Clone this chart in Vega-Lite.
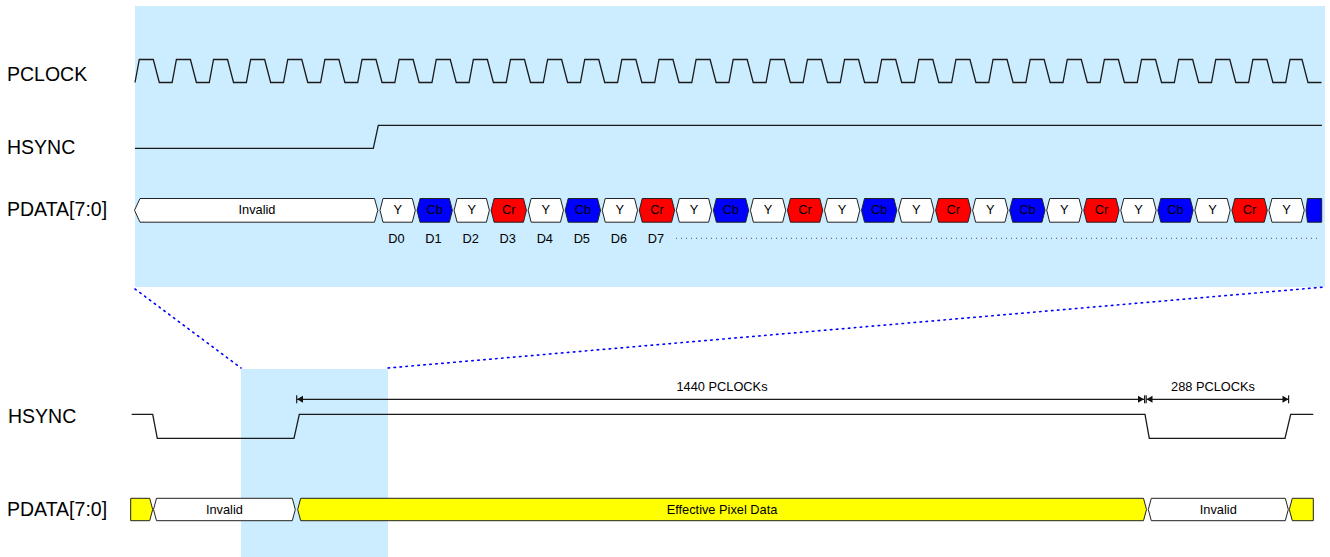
{
  "$schema": "https://vega.github.io/schema/vega-lite/v6.json",
  "width": 1330,
  "height": 557,
  "autosize": {"type": "fit", "contains": "padding"},
  "padding": 0,
  "background": "white",
  "config": {"view": {"stroke": null}, "font": "Liberation Sans"},
  "datasets": {
    "bg": [
      {"x": 135, "x2": 1325, "y": 6, "y2": 287},
      {"x": 241, "x2": 388, "y": 369, "y2": 557}
    ],
    "diag": [
      {"x": 135, "x2": 241, "y": 289, "y2": 368},
      {"x": 388, "x2": 1325, "y": 368, "y2": 287}
    ],
    "dots": [
      {"x": 676, "x2": 1319, "y": 238.3}
    ],
    "waves": [
      {"s": "clk", "x": 135, "y": 82.5}, {"s": "clk", "x": 139.3, "y": 59.5}, {"s": "clk", "x": 153.3, "y": 59.5}, {"s": "clk", "x": 159.3, "y": 82.5},
      {"s": "clk", "x": 172.12, "y": 82.5}, {"s": "clk", "x": 176.42, "y": 59.5}, {"s": "clk", "x": 190.42, "y": 59.5}, {"s": "clk", "x": 196.42, "y": 82.5},
      {"s": "clk", "x": 209.24, "y": 82.5}, {"s": "clk", "x": 213.54, "y": 59.5}, {"s": "clk", "x": 227.54, "y": 59.5}, {"s": "clk", "x": 233.54, "y": 82.5},
      {"s": "clk", "x": 246.36, "y": 82.5}, {"s": "clk", "x": 250.66, "y": 59.5}, {"s": "clk", "x": 264.66, "y": 59.5}, {"s": "clk", "x": 270.66, "y": 82.5},
      {"s": "clk", "x": 283.48, "y": 82.5}, {"s": "clk", "x": 287.78, "y": 59.5}, {"s": "clk", "x": 301.78, "y": 59.5}, {"s": "clk", "x": 307.78, "y": 82.5},
      {"s": "clk", "x": 320.6, "y": 82.5}, {"s": "clk", "x": 324.9, "y": 59.5}, {"s": "clk", "x": 338.9, "y": 59.5}, {"s": "clk", "x": 344.9, "y": 82.5},
      {"s": "clk", "x": 357.72, "y": 82.5}, {"s": "clk", "x": 362.02, "y": 59.5}, {"s": "clk", "x": 376.02, "y": 59.5}, {"s": "clk", "x": 382.02, "y": 82.5},
      {"s": "clk", "x": 394.84, "y": 82.5}, {"s": "clk", "x": 399.14, "y": 59.5}, {"s": "clk", "x": 413.14, "y": 59.5}, {"s": "clk", "x": 419.14, "y": 82.5},
      {"s": "clk", "x": 431.96, "y": 82.5}, {"s": "clk", "x": 436.26, "y": 59.5}, {"s": "clk", "x": 450.26, "y": 59.5}, {"s": "clk", "x": 456.26, "y": 82.5},
      {"s": "clk", "x": 469.08, "y": 82.5}, {"s": "clk", "x": 473.38, "y": 59.5}, {"s": "clk", "x": 487.38, "y": 59.5}, {"s": "clk", "x": 493.38, "y": 82.5},
      {"s": "clk", "x": 506.2, "y": 82.5}, {"s": "clk", "x": 510.5, "y": 59.5}, {"s": "clk", "x": 524.5, "y": 59.5}, {"s": "clk", "x": 530.5, "y": 82.5},
      {"s": "clk", "x": 543.32, "y": 82.5}, {"s": "clk", "x": 547.62, "y": 59.5}, {"s": "clk", "x": 561.62, "y": 59.5}, {"s": "clk", "x": 567.62, "y": 82.5},
      {"s": "clk", "x": 580.44, "y": 82.5}, {"s": "clk", "x": 584.74, "y": 59.5}, {"s": "clk", "x": 598.74, "y": 59.5}, {"s": "clk", "x": 604.74, "y": 82.5},
      {"s": "clk", "x": 617.56, "y": 82.5}, {"s": "clk", "x": 621.86, "y": 59.5}, {"s": "clk", "x": 635.86, "y": 59.5}, {"s": "clk", "x": 641.86, "y": 82.5},
      {"s": "clk", "x": 654.68, "y": 82.5}, {"s": "clk", "x": 658.98, "y": 59.5}, {"s": "clk", "x": 672.98, "y": 59.5}, {"s": "clk", "x": 678.98, "y": 82.5},
      {"s": "clk", "x": 691.8, "y": 82.5}, {"s": "clk", "x": 696.1, "y": 59.5}, {"s": "clk", "x": 710.1, "y": 59.5}, {"s": "clk", "x": 716.1, "y": 82.5},
      {"s": "clk", "x": 728.92, "y": 82.5}, {"s": "clk", "x": 733.22, "y": 59.5}, {"s": "clk", "x": 747.22, "y": 59.5}, {"s": "clk", "x": 753.22, "y": 82.5},
      {"s": "clk", "x": 766.04, "y": 82.5}, {"s": "clk", "x": 770.34, "y": 59.5}, {"s": "clk", "x": 784.34, "y": 59.5}, {"s": "clk", "x": 790.34, "y": 82.5},
      {"s": "clk", "x": 803.16, "y": 82.5}, {"s": "clk", "x": 807.46, "y": 59.5}, {"s": "clk", "x": 821.46, "y": 59.5}, {"s": "clk", "x": 827.46, "y": 82.5},
      {"s": "clk", "x": 840.28, "y": 82.5}, {"s": "clk", "x": 844.58, "y": 59.5}, {"s": "clk", "x": 858.58, "y": 59.5}, {"s": "clk", "x": 864.58, "y": 82.5},
      {"s": "clk", "x": 877.4, "y": 82.5}, {"s": "clk", "x": 881.7, "y": 59.5}, {"s": "clk", "x": 895.7, "y": 59.5}, {"s": "clk", "x": 901.7, "y": 82.5},
      {"s": "clk", "x": 914.52, "y": 82.5}, {"s": "clk", "x": 918.82, "y": 59.5}, {"s": "clk", "x": 932.82, "y": 59.5}, {"s": "clk", "x": 938.82, "y": 82.5},
      {"s": "clk", "x": 951.64, "y": 82.5}, {"s": "clk", "x": 955.94, "y": 59.5}, {"s": "clk", "x": 969.94, "y": 59.5}, {"s": "clk", "x": 975.94, "y": 82.5},
      {"s": "clk", "x": 988.76, "y": 82.5}, {"s": "clk", "x": 993.06, "y": 59.5}, {"s": "clk", "x": 1007.06, "y": 59.5}, {"s": "clk", "x": 1013.06, "y": 82.5},
      {"s": "clk", "x": 1025.88, "y": 82.5}, {"s": "clk", "x": 1030.18, "y": 59.5}, {"s": "clk", "x": 1044.18, "y": 59.5}, {"s": "clk", "x": 1050.18, "y": 82.5},
      {"s": "clk", "x": 1063.0, "y": 82.5}, {"s": "clk", "x": 1067.3, "y": 59.5}, {"s": "clk", "x": 1081.3, "y": 59.5}, {"s": "clk", "x": 1087.3, "y": 82.5},
      {"s": "clk", "x": 1100.12, "y": 82.5}, {"s": "clk", "x": 1104.42, "y": 59.5}, {"s": "clk", "x": 1118.42, "y": 59.5}, {"s": "clk", "x": 1124.42, "y": 82.5},
      {"s": "clk", "x": 1137.24, "y": 82.5}, {"s": "clk", "x": 1141.54, "y": 59.5}, {"s": "clk", "x": 1155.54, "y": 59.5}, {"s": "clk", "x": 1161.54, "y": 82.5},
      {"s": "clk", "x": 1174.36, "y": 82.5}, {"s": "clk", "x": 1178.66, "y": 59.5}, {"s": "clk", "x": 1192.66, "y": 59.5}, {"s": "clk", "x": 1198.66, "y": 82.5},
      {"s": "clk", "x": 1211.48, "y": 82.5}, {"s": "clk", "x": 1215.78, "y": 59.5}, {"s": "clk", "x": 1229.78, "y": 59.5}, {"s": "clk", "x": 1235.78, "y": 82.5},
      {"s": "clk", "x": 1248.6, "y": 82.5}, {"s": "clk", "x": 1252.9, "y": 59.5}, {"s": "clk", "x": 1266.9, "y": 59.5}, {"s": "clk", "x": 1272.9, "y": 82.5},
      {"s": "clk", "x": 1285.72, "y": 82.5}, {"s": "clk", "x": 1290.02, "y": 59.5}, {"s": "clk", "x": 1302.0, "y": 59.5}, {"s": "clk", "x": 1308.0, "y": 82.5},
      {"s": "clk", "x": 1321.5, "y": 82.5},
      {"s": "hs1", "x": 135, "y": 148.3}, {"s": "hs1", "x": 373.3, "y": 148.3}, {"s": "hs1", "x": 378.3, "y": 125.3}, {"s": "hs1", "x": 1322, "y": 125.3},
      {"s": "hs2", "x": 131.7, "y": 414.3}, {"s": "hs2", "x": 152.7, "y": 414.3}, {"s": "hs2", "x": 157.3, "y": 438.3}, {"s": "hs2", "x": 294, "y": 438.3},
      {"s": "hs2", "x": 299.3, "y": 414.3}, {"s": "hs2", "x": 1145, "y": 414.3}, {"s": "hs2", "x": 1149.3, "y": 438.3}, {"s": "hs2", "x": 1285, "y": 438.3},
      {"s": "hs2", "x": 1290.7, "y": 414.3}, {"s": "hs2", "x": 1313.3, "y": 414.3}
    ],
    "cells": [
      {"id": "inv0", "k": "Invalid", "x": 134.5, "y": 210.3, "y2": 210.3}, {"id": "inv0", "k": "Invalid", "x": 140, "y": 198.5, "y2": 222.2}, {"id": "inv0", "k": "Invalid", "x": 374.5, "y": 198.5, "y2": 222.2}, {"id": "inv0", "k": "Invalid", "x": 377.8, "y": 210.3, "y2": 210.3},
      {"id": "c0", "k": "Y", "x": 380, "y": 210.3, "y2": 210.3}, {"id": "c0", "k": "Y", "x": 383, "y": 198.5, "y2": 222.2}, {"id": "c0", "k": "Y", "x": 412.3, "y": 198.5, "y2": 222.2}, {"id": "c0", "k": "Y", "x": 415.3, "y": 210.3, "y2": 210.3},
      {"id": "c1", "k": "Cb", "x": 417.04, "y": 210.3, "y2": 210.3}, {"id": "c1", "k": "Cb", "x": 420.04, "y": 198.5, "y2": 222.2}, {"id": "c1", "k": "Cb", "x": 449.34, "y": 198.5, "y2": 222.2}, {"id": "c1", "k": "Cb", "x": 452.34, "y": 210.3, "y2": 210.3},
      {"id": "c2", "k": "Y", "x": 454.08, "y": 210.3, "y2": 210.3}, {"id": "c2", "k": "Y", "x": 457.08, "y": 198.5, "y2": 222.2}, {"id": "c2", "k": "Y", "x": 486.38, "y": 198.5, "y2": 222.2}, {"id": "c2", "k": "Y", "x": 489.38, "y": 210.3, "y2": 210.3},
      {"id": "c3", "k": "Cr", "x": 491.12, "y": 210.3, "y2": 210.3}, {"id": "c3", "k": "Cr", "x": 494.12, "y": 198.5, "y2": 222.2}, {"id": "c3", "k": "Cr", "x": 523.42, "y": 198.5, "y2": 222.2}, {"id": "c3", "k": "Cr", "x": 526.42, "y": 210.3, "y2": 210.3},
      {"id": "c4", "k": "Y", "x": 528.16, "y": 210.3, "y2": 210.3}, {"id": "c4", "k": "Y", "x": 531.16, "y": 198.5, "y2": 222.2}, {"id": "c4", "k": "Y", "x": 560.46, "y": 198.5, "y2": 222.2}, {"id": "c4", "k": "Y", "x": 563.46, "y": 210.3, "y2": 210.3},
      {"id": "c5", "k": "Cb", "x": 565.2, "y": 210.3, "y2": 210.3}, {"id": "c5", "k": "Cb", "x": 568.2, "y": 198.5, "y2": 222.2}, {"id": "c5", "k": "Cb", "x": 597.5, "y": 198.5, "y2": 222.2}, {"id": "c5", "k": "Cb", "x": 600.5, "y": 210.3, "y2": 210.3},
      {"id": "c6", "k": "Y", "x": 602.24, "y": 210.3, "y2": 210.3}, {"id": "c6", "k": "Y", "x": 605.24, "y": 198.5, "y2": 222.2}, {"id": "c6", "k": "Y", "x": 634.54, "y": 198.5, "y2": 222.2}, {"id": "c6", "k": "Y", "x": 637.54, "y": 210.3, "y2": 210.3},
      {"id": "c7", "k": "Cr", "x": 639.28, "y": 210.3, "y2": 210.3}, {"id": "c7", "k": "Cr", "x": 642.28, "y": 198.5, "y2": 222.2}, {"id": "c7", "k": "Cr", "x": 671.58, "y": 198.5, "y2": 222.2}, {"id": "c7", "k": "Cr", "x": 674.58, "y": 210.3, "y2": 210.3},
      {"id": "c8", "k": "Y", "x": 676.32, "y": 210.3, "y2": 210.3}, {"id": "c8", "k": "Y", "x": 679.32, "y": 198.5, "y2": 222.2}, {"id": "c8", "k": "Y", "x": 708.62, "y": 198.5, "y2": 222.2}, {"id": "c8", "k": "Y", "x": 711.62, "y": 210.3, "y2": 210.3},
      {"id": "c9", "k": "Cb", "x": 713.36, "y": 210.3, "y2": 210.3}, {"id": "c9", "k": "Cb", "x": 716.36, "y": 198.5, "y2": 222.2}, {"id": "c9", "k": "Cb", "x": 745.66, "y": 198.5, "y2": 222.2}, {"id": "c9", "k": "Cb", "x": 748.66, "y": 210.3, "y2": 210.3},
      {"id": "c10", "k": "Y", "x": 750.4, "y": 210.3, "y2": 210.3}, {"id": "c10", "k": "Y", "x": 753.4, "y": 198.5, "y2": 222.2}, {"id": "c10", "k": "Y", "x": 782.7, "y": 198.5, "y2": 222.2}, {"id": "c10", "k": "Y", "x": 785.7, "y": 210.3, "y2": 210.3},
      {"id": "c11", "k": "Cr", "x": 787.44, "y": 210.3, "y2": 210.3}, {"id": "c11", "k": "Cr", "x": 790.44, "y": 198.5, "y2": 222.2}, {"id": "c11", "k": "Cr", "x": 819.74, "y": 198.5, "y2": 222.2}, {"id": "c11", "k": "Cr", "x": 822.74, "y": 210.3, "y2": 210.3},
      {"id": "c12", "k": "Y", "x": 824.48, "y": 210.3, "y2": 210.3}, {"id": "c12", "k": "Y", "x": 827.48, "y": 198.5, "y2": 222.2}, {"id": "c12", "k": "Y", "x": 856.78, "y": 198.5, "y2": 222.2}, {"id": "c12", "k": "Y", "x": 859.78, "y": 210.3, "y2": 210.3},
      {"id": "c13", "k": "Cb", "x": 861.52, "y": 210.3, "y2": 210.3}, {"id": "c13", "k": "Cb", "x": 864.52, "y": 198.5, "y2": 222.2}, {"id": "c13", "k": "Cb", "x": 893.82, "y": 198.5, "y2": 222.2}, {"id": "c13", "k": "Cb", "x": 896.82, "y": 210.3, "y2": 210.3},
      {"id": "c14", "k": "Y", "x": 898.56, "y": 210.3, "y2": 210.3}, {"id": "c14", "k": "Y", "x": 901.56, "y": 198.5, "y2": 222.2}, {"id": "c14", "k": "Y", "x": 930.86, "y": 198.5, "y2": 222.2}, {"id": "c14", "k": "Y", "x": 933.86, "y": 210.3, "y2": 210.3},
      {"id": "c15", "k": "Cr", "x": 935.6, "y": 210.3, "y2": 210.3}, {"id": "c15", "k": "Cr", "x": 938.6, "y": 198.5, "y2": 222.2}, {"id": "c15", "k": "Cr", "x": 967.9, "y": 198.5, "y2": 222.2}, {"id": "c15", "k": "Cr", "x": 970.9, "y": 210.3, "y2": 210.3},
      {"id": "c16", "k": "Y", "x": 972.64, "y": 210.3, "y2": 210.3}, {"id": "c16", "k": "Y", "x": 975.64, "y": 198.5, "y2": 222.2}, {"id": "c16", "k": "Y", "x": 1004.94, "y": 198.5, "y2": 222.2}, {"id": "c16", "k": "Y", "x": 1007.94, "y": 210.3, "y2": 210.3},
      {"id": "c17", "k": "Cb", "x": 1009.68, "y": 210.3, "y2": 210.3}, {"id": "c17", "k": "Cb", "x": 1012.68, "y": 198.5, "y2": 222.2}, {"id": "c17", "k": "Cb", "x": 1041.98, "y": 198.5, "y2": 222.2}, {"id": "c17", "k": "Cb", "x": 1044.98, "y": 210.3, "y2": 210.3},
      {"id": "c18", "k": "Y", "x": 1046.72, "y": 210.3, "y2": 210.3}, {"id": "c18", "k": "Y", "x": 1049.72, "y": 198.5, "y2": 222.2}, {"id": "c18", "k": "Y", "x": 1079.02, "y": 198.5, "y2": 222.2}, {"id": "c18", "k": "Y", "x": 1082.02, "y": 210.3, "y2": 210.3},
      {"id": "c19", "k": "Cr", "x": 1083.76, "y": 210.3, "y2": 210.3}, {"id": "c19", "k": "Cr", "x": 1086.76, "y": 198.5, "y2": 222.2}, {"id": "c19", "k": "Cr", "x": 1116.06, "y": 198.5, "y2": 222.2}, {"id": "c19", "k": "Cr", "x": 1119.06, "y": 210.3, "y2": 210.3},
      {"id": "c20", "k": "Y", "x": 1120.8, "y": 210.3, "y2": 210.3}, {"id": "c20", "k": "Y", "x": 1123.8, "y": 198.5, "y2": 222.2}, {"id": "c20", "k": "Y", "x": 1153.1, "y": 198.5, "y2": 222.2}, {"id": "c20", "k": "Y", "x": 1156.1, "y": 210.3, "y2": 210.3},
      {"id": "c21", "k": "Cb", "x": 1157.84, "y": 210.3, "y2": 210.3}, {"id": "c21", "k": "Cb", "x": 1160.84, "y": 198.5, "y2": 222.2}, {"id": "c21", "k": "Cb", "x": 1190.14, "y": 198.5, "y2": 222.2}, {"id": "c21", "k": "Cb", "x": 1193.14, "y": 210.3, "y2": 210.3},
      {"id": "c22", "k": "Y", "x": 1194.88, "y": 210.3, "y2": 210.3}, {"id": "c22", "k": "Y", "x": 1197.88, "y": 198.5, "y2": 222.2}, {"id": "c22", "k": "Y", "x": 1227.18, "y": 198.5, "y2": 222.2}, {"id": "c22", "k": "Y", "x": 1230.18, "y": 210.3, "y2": 210.3},
      {"id": "c23", "k": "Cr", "x": 1231.92, "y": 210.3, "y2": 210.3}, {"id": "c23", "k": "Cr", "x": 1234.92, "y": 198.5, "y2": 222.2}, {"id": "c23", "k": "Cr", "x": 1264.22, "y": 198.5, "y2": 222.2}, {"id": "c23", "k": "Cr", "x": 1267.22, "y": 210.3, "y2": 210.3},
      {"id": "c24", "k": "Y", "x": 1268.96, "y": 210.3, "y2": 210.3}, {"id": "c24", "k": "Y", "x": 1271.96, "y": 198.5, "y2": 222.2}, {"id": "c24", "k": "Y", "x": 1301.26, "y": 198.5, "y2": 222.2}, {"id": "c24", "k": "Y", "x": 1304.26, "y": 210.3, "y2": 210.3},
      {"id": "c25", "k": "Cb", "x": 1306, "y": 210.3, "y2": 210.3}, {"id": "c25", "k": "Cb", "x": 1307.5, "y": 198.5, "y2": 222.2}, {"id": "c25", "k": "Cb", "x": 1321.7, "y": 198.5, "y2": 222.2},
      {"id": "b0", "k": "Effective", "x": 130.7, "y": 498.3, "y2": 520.7}, {"id": "b0", "k": "Effective", "x": 149.7, "y": 498.3, "y2": 520.7}, {"id": "b0", "k": "Effective", "x": 152.7, "y": 509.5, "y2": 509.5},
      {"id": "b1", "k": "Invalid", "x": 153.5, "y": 509.5, "y2": 509.5}, {"id": "b1", "k": "Invalid", "x": 156.5, "y": 498.3, "y2": 520.7}, {"id": "b1", "k": "Invalid", "x": 292.3, "y": 498.3, "y2": 520.7}, {"id": "b1", "k": "Invalid", "x": 295.3, "y": 509.5, "y2": 509.5},
      {"id": "b2", "k": "Effective", "x": 297.7, "y": 509.5, "y2": 509.5}, {"id": "b2", "k": "Effective", "x": 300.7, "y": 498.3, "y2": 520.7}, {"id": "b2", "k": "Effective", "x": 1143.5, "y": 498.3, "y2": 520.7}, {"id": "b2", "k": "Effective", "x": 1146.5, "y": 509.5, "y2": 509.5},
      {"id": "b3", "k": "Invalid", "x": 1148.3, "y": 509.5, "y2": 509.5}, {"id": "b3", "k": "Invalid", "x": 1151.3, "y": 498.3, "y2": 520.7}, {"id": "b3", "k": "Invalid", "x": 1285.3, "y": 498.3, "y2": 520.7}, {"id": "b3", "k": "Invalid", "x": 1288.3, "y": 509.5, "y2": 509.5},
      {"id": "b4", "k": "Effective", "x": 1289.3, "y": 509.5, "y2": 509.5}, {"id": "b4", "k": "Effective", "x": 1292.3, "y": 498.3, "y2": 520.7}, {"id": "b4", "k": "Effective", "x": 1313.3, "y": 498.3, "y2": 520.7}
    ],
    "rules": [
      {"x": 297, "x2": 1144, "y": 399.3, "y2": 399.3},
      {"x": 1146.5, "x2": 1288.5, "y": 399.3, "y2": 399.3},
      {"x": 296.7, "x2": 296.7, "y": 395.3, "y2": 403.3},
      {"x": 1144.6, "x2": 1144.6, "y": 395.3, "y2": 403.3},
      {"x": 1146.2, "x2": 1146.2, "y": 395.3, "y2": 403.3},
      {"x": 1288.6, "x2": 1288.6, "y": 395.3, "y2": 403.3}
    ],
    "heads": [
      {"id": "h1", "x": 297, "y": 399.3, "y2": 399.3}, {"id": "h1", "x": 303, "y": 395.8, "y2": 402.8},
      {"id": "h2", "x": 1138, "y": 395.8, "y2": 402.8}, {"id": "h2", "x": 1144, "y": 399.3, "y2": 399.3},
      {"id": "h3", "x": 1146.5, "y": 399.3, "y2": 399.3}, {"id": "h3", "x": 1152.5, "y": 395.8, "y2": 402.8},
      {"id": "h4", "x": 1282.5, "y": 395.8, "y2": 402.8}, {"id": "h4", "x": 1288.5, "y": 399.3, "y2": 399.3}
    ],
    "siglabels": [
      {"x": 7, "y": 75, "t": "PCLOCK"},
      {"x": 7, "y": 148, "t": "HSYNC"},
      {"x": 7, "y": 210, "t": "PDATA[7:0]"},
      {"x": 8, "y": 417, "t": "HSYNC"},
      {"x": 7, "y": 510, "t": "PDATA[7:0]"}
    ],
    "small": [
      {"x": 257, "y": 210.3, "t": "Invalid"},
      {"x": 397.65, "y": 210.3, "t": "Y"}, {"x": 434.69, "y": 210.3, "t": "Cb"}, {"x": 471.73, "y": 210.3, "t": "Y"}, {"x": 508.77, "y": 210.3, "t": "Cr"},
      {"x": 545.81, "y": 210.3, "t": "Y"}, {"x": 582.85, "y": 210.3, "t": "Cb"}, {"x": 619.89, "y": 210.3, "t": "Y"}, {"x": 656.93, "y": 210.3, "t": "Cr"},
      {"x": 693.97, "y": 210.3, "t": "Y"}, {"x": 731.01, "y": 210.3, "t": "Cb"}, {"x": 768.05, "y": 210.3, "t": "Y"}, {"x": 805.09, "y": 210.3, "t": "Cr"},
      {"x": 842.13, "y": 210.3, "t": "Y"}, {"x": 879.17, "y": 210.3, "t": "Cb"}, {"x": 916.21, "y": 210.3, "t": "Y"}, {"x": 953.25, "y": 210.3, "t": "Cr"},
      {"x": 990.29, "y": 210.3, "t": "Y"}, {"x": 1027.33, "y": 210.3, "t": "Cb"}, {"x": 1064.37, "y": 210.3, "t": "Y"}, {"x": 1101.41, "y": 210.3, "t": "Cr"},
      {"x": 1138.45, "y": 210.3, "t": "Y"}, {"x": 1175.49, "y": 210.3, "t": "Cb"}, {"x": 1212.53, "y": 210.3, "t": "Y"}, {"x": 1249.57, "y": 210.3, "t": "Cr"},
      {"x": 1286.61, "y": 210.3, "t": "Y"},
      {"x": 396.5, "y": 238.5, "t": "D0"}, {"x": 433.5, "y": 238.5, "t": "D1"}, {"x": 470.7, "y": 238.5, "t": "D2"}, {"x": 507.7, "y": 238.5, "t": "D3"},
      {"x": 544.8, "y": 238.5, "t": "D4"}, {"x": 581.8, "y": 238.5, "t": "D5"}, {"x": 618.9, "y": 238.5, "t": "D6"}, {"x": 655.9, "y": 238.5, "t": "D7"},
      {"x": 722, "y": 386.5, "t": "1440 PCLOCKs"},
      {"x": 1213, "y": 386.5, "t": "288 PCLOCKs"},
      {"x": 224.4, "y": 509.5, "t": "Invalid"},
      {"x": 722, "y": 509.5, "t": "Effective Pixel Data"},
      {"x": 1218.3, "y": 509.5, "t": "Invalid"}
    ]
  },
  "encoding": {
    "x": {"field": "x", "type": "quantitative", "scale": {"domain": [0, 1330], "nice": false, "zero": false}, "axis": null},
    "y": {"field": "y", "type": "quantitative", "scale": {"domain": [557, 0], "nice": false, "zero": false}, "axis": null, "stack": null}
  },
  "layer": [
    {
      "data": {"name": "bg"},
      "mark": {"type": "rect", "fill": "#ccecff", "stroke": null},
      "encoding": {"x2": {"field": "x2"}, "y2": {"field": "y2"}}
    },
    {
      "data": {"name": "diag"},
      "mark": {"type": "rule", "color": "#0000ff", "strokeWidth": 1.6, "strokeDash": [1.5, 4.5], "strokeCap": "round"},
      "encoding": {"x2": {"field": "x2"}, "y2": {"field": "y2"}}
    },
    {
      "data": {"name": "dots"},
      "mark": {"type": "rule", "color": "#555555", "strokeWidth": 1, "strokeDash": [1, 4]},
      "encoding": {"x2": {"field": "x2"}}
    },
    {
      "data": {"name": "waves"},
      "mark": {"type": "line", "color": "#1a1a1a", "strokeWidth": 1.3, "interpolate": "linear"},
      "encoding": {"detail": {"field": "s", "type": "nominal"}}
    },
    {
      "data": {"name": "cells"},
      "mark": {"type": "area", "stroke": "#222222", "strokeWidth": 1, "opacity": 1, "fillOpacity": 1},
      "encoding": {
        "y2": {"field": "y2"},
        "detail": {"field": "id", "type": "nominal"},
        "color": {"field": "k", "type": "nominal", "legend": null,
          "scale": {"domain": ["Y", "Cb", "Cr", "Invalid", "Effective"], "range": ["#ffffff", "#0000ff", "#ff0000", "#ffffff", "#ffff00"]}}
      }
    },
    {
      "data": {"name": "rules"},
      "mark": {"type": "rule", "color": "#1a1a1a", "strokeWidth": 1.2},
      "encoding": {"x2": {"field": "x2"}, "y2": {"field": "y2"}}
    },
    {
      "data": {"name": "heads"},
      "mark": {"type": "area", "color": "#111111", "opacity": 1},
      "encoding": {"y2": {"field": "y2"}, "detail": {"field": "id", "type": "nominal"}}
    },
    {
      "data": {"name": "siglabels"},
      "mark": {"type": "text", "align": "left", "baseline": "middle", "fontSize": 19.5, "font": "Liberation Sans", "color": "#000000"},
      "encoding": {"text": {"field": "t"}}
    },
    {
      "data": {"name": "small"},
      "mark": {"type": "text", "align": "center", "baseline": "middle", "fontSize": 12.8, "font": "Liberation Sans", "color": "#000000"},
      "encoding": {"text": {"field": "t"}}
    }
  ]
}
